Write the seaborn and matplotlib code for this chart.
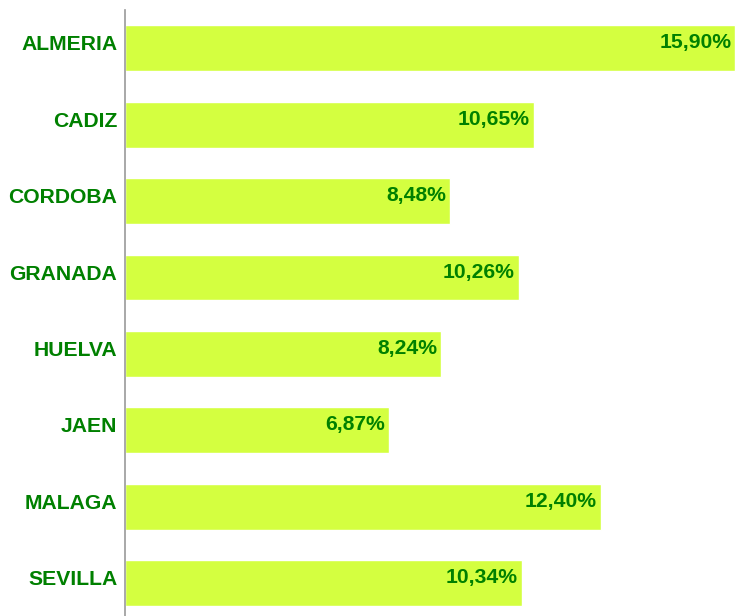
import matplotlib
matplotlib.use("Agg")
import matplotlib.pyplot as plt
import seaborn as sns
import pandas as pd
import numpy as np

provincias = ["ALMERIA", "CADIZ", "CORDOBA", "GRANADA", "HUELVA", "JAEN", "MALAGA", "SEVILLA"]
valores = [15.90, 10.65, 8.48, 10.26, 8.24, 6.87, 12.40, 10.34]

df = pd.DataFrame({"provincia": provincias, "valor": valores})

sns.set_style("white")
plt.rcParams['font.family'] = ['Liberation Sans', 'DejaVu Sans']

verde = "#008000"
lima = "#d4ff40"
fs = 15.2

fig = plt.figure(figsize=(7.36, 6.16), dpi=100)
ax = fig.add_axes([125 / 736, 0.0, 611 / 736, 606 / 616])

sns.barplot(data=df, x="valor", y="provincia", orient="h", color=lima,
            saturation=1, width=0.6, ax=ax)

# texto un poco por encima del centro de la barra
dy = 0.07
for i, v in enumerate(valores):
    ax.text(v - 0.1, i - dy, f"{v:.2f}%".replace(".", ","), ha="right", va="center",
            color=verde, fontsize=fs, fontweight="bold")

ax.set_xlim(0, 15.92)
ax.set_ylim(7.43, -0.5)
ax.set_xlabel("")
ax.set_ylabel("")
ax.set_xticks([])
ax.set_yticks(np.arange(len(provincias)) - dy, provincias)
ax.tick_params(axis="y", length=0, pad=5.5, labelsize=fs, labelcolor=verde)
for lab in ax.get_yticklabels():
    lab.set_fontweight("bold")
ax.set_yticks(np.arange(-0.5, 7.5, 1), minor=True)
ax.tick_params(axis="y", which="minor", length=2, width=1.5, color="#999999")

for s in ["top", "right", "bottom"]:
    ax.spines[s].set_visible(False)
ax.spines["left"].set_color("#999999")
ax.spines["left"].set_linewidth(1.2)

fig.savefig("out.png", dpi=100)
